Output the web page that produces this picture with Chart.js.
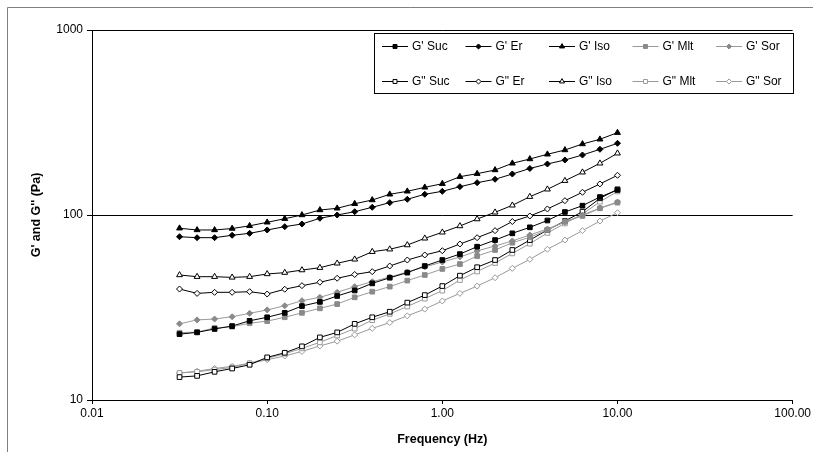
<!DOCTYPE html>
<html>
<head>
<meta charset="utf-8">
<script src="https://cdn.jsdelivr.net/npm/chart.js@4/dist/chart.umd.min.js"></script>
<style>
  html, body { margin: 0; padding: 0; background: #fff; }
  #wrap { width: 813px; height: 452px; }
</style>
</head>
<body>
<div id="wrap"><canvas id="c" width="813" height="452"></canvas></div>
<script>
// Oscillation frequency sweep (Hz)
const frequencyHz = [0.0316, 0.0398, 0.0501, 0.0631, 0.0794, 0.1, 0.126, 0.158, 0.2, 0.251,
  0.316, 0.398, 0.501, 0.631, 0.794, 1.0, 1.26, 1.58, 2.0, 2.51,
  3.16, 3.98, 5.01, 6.31, 7.94, 10.0];

// Storage modulus G' (Pa)
const storageSuc = [22.7, 23.2, 24.2, 25.1, 26.8, 28.0, 29.6, 32.2, 33.9, 36.5, 39.1, 42.7, 45.8, 48.8, 53.0, 57.1, 61.5, 67.4, 73.2, 79.6, 85.8, 93.4, 103.8, 112.3, 125.1, 136.5];
const storageEr  = [76.3, 75.4, 75.4, 77.7, 79.6, 83.0, 86.5, 89.4, 96.0, 100, 104.2, 110.1, 116.6, 121.6, 129.4, 134.3, 142.2, 149.5, 156.0, 166.6, 178.4, 188.7, 198.3, 211, 226.5, 244.1];
const storageIso = [84.8, 83.0, 83.0, 84.5, 87.4, 91.3, 95.5, 100, 106.4, 108.7, 115.0, 120.5, 129.4, 134.3, 141.1, 147.6, 161.1, 167.2, 175.1, 190.3, 200.8, 212.9, 224.6, 242, 256.6, 278.6];
const storageMlt = [23.1, 23.3, 24.5, 24.9, 26.0, 26.7, 28.0, 29.6, 31.3, 33.0, 35.9, 38.5, 41.0, 44.2, 47.4, 51.1, 54.3, 60.0, 64.7, 70.8, 75.8, 83.0, 92.0, 98.8, 108.7, 116.6];
const storageSor = [25.8, 27.1, 27.4, 28.2, 29.4, 30.7, 32.3, 34.4, 35.9, 38.2, 41.0, 43.6, 46.2, 49.2, 52.4, 55.7, 59.3, 63.9, 68.0, 72.4, 78.0, 84.0, 91.7, 100, 109.1, 117.6];

// Loss modulus G'' (Pa)
const lossSuc = [13.3, 13.5, 14.2, 14.8, 15.5, 17.0, 18.0, 19.5, 21.8, 23.2, 25.8, 28.0, 30.0, 33.6, 36.9, 41.3, 47.0, 52.2, 57.1, 64.7, 73.2, 83.0, 92.8, 104.2, 123.1, 137.7];
const lossEr  = [39.8, 37.7, 38.2, 38.2, 38.5, 37.4, 39.7, 41.5, 43.3, 45.5, 47.7, 49.4, 53.0, 57.1, 60.8, 64.1, 69.7, 75.4, 82.3, 92.2, 98.8, 107.8, 119.5, 132.7, 147.2, 163.9];
const lossIso = [47.4, 46.4, 46.4, 46.0, 46.4, 48.0, 48.8, 50.4, 51.9, 54.8, 57.6, 63.3, 65.3, 68.8, 74.8, 80.6, 87.2, 95.1, 103.4, 112.8, 125.6, 137.7, 153.2, 170.2, 190.3, 215.6];
const lossMlt = [14.0, 14.2, 14.6, 15.0, 15.8, 16.8, 17.8, 19.0, 20.5, 22.3, 24.3, 27.0, 29.2, 32.0, 35.3, 39.0, 44.5, 49.5, 55.0, 62.0, 70.0, 80.0, 90.0, 101, 118, 134];
const lossSor = [14.0, 14.3, 14.8, 15.2, 15.8, 16.5, 17.3, 18.3, 19.6, 20.8, 22.5, 24.4, 26.2, 28.5, 31.0, 34.3, 37.7, 41.3, 45.8, 51.5, 57.6, 65.3, 73.2, 82.3, 92.8, 102.9];

// Axis tick values
const xTicks = [0.01, 0.1, 1, 10, 100];
const yTicks = [10, 100, 1000];

const FONT = '"Liberation Sans", Arial, sans-serif';
const BLACK = '#000000';
const GREY_LINE = '#9a9a9a';
const GREY_MARK = '#8a8a8a';

function series(label, values, line, style, fill, border, radius) {
  return {
    label,
    data: frequencyHz.map((f, i) => ({ x: f, y: values[i] })),
    borderColor: line,
    borderWidth: 1,
    tension: 0,
    pointStyle: style,
    pointRadius: radius,
    pointBackgroundColor: fill,
    pointBorderColor: border,
    pointBorderWidth: 1,
    fill: false
  };
}

const datasets = [
  series("G' Suc", storageSuc, BLACK, 'rect', BLACK, BLACK, 3.3),
  series("G' Er", storageEr, BLACK, 'rectRot', BLACK, BLACK, 3),
  series("G' Iso", storageIso, BLACK, 'triangle', BLACK, BLACK, 3.4),
  series("G' Mlt", storageMlt, GREY_LINE, 'rect', GREY_MARK, GREY_MARK, 3.3),
  series("G' Sor", storageSor, GREY_LINE, 'rectRot', GREY_MARK, GREY_MARK, 3),
  series('G" Suc', lossSuc, BLACK, 'rect', '#ffffff', BLACK, 3.3),
  series('G" Er', lossEr, BLACK, 'rectRot', '#ffffff', BLACK, 3),
  series('G" Iso', lossIso, BLACK, 'triangle', '#ffffff', BLACK, 3.4),
  series('G" Mlt', lossMlt, GREY_LINE, 'rect', '#ffffff', GREY_LINE, 3.3),
  series('G" Sor', lossSor, GREY_LINE, 'rectRot', '#ffffff', GREY_LINE, 3)
];

// Outer frame of the chart object
const framePlugin = {
  id: 'frame',
  beforeDraw(chart) {
    const ctx = chart.ctx;
    ctx.save();
    ctx.fillStyle = '#ffffff';
    ctx.fillRect(0, 0, chart.width, chart.height);
    ctx.strokeStyle = '#808080';
    ctx.lineWidth = 1;
    ctx.beginPath();
    ctx.moveTo(7.5, chart.height);
    ctx.lineTo(7.5, 7.5);
    ctx.lineTo(chart.width, 7.5);
    ctx.stroke();
    ctx.restore();
  }
};

// Boxed two-row legend inside the plot
const legendPlugin = {
  id: 'boxLegend',
  afterDraw(chart) {
    const ctx = chart.ctx;
    const box = { x: 374.5, y: 33.5, w: 419, h: 60 };
    ctx.save();
    ctx.fillStyle = '#ffffff';
    ctx.fillRect(box.x, box.y, box.w, box.h);
    ctx.strokeStyle = '#000000';
    ctx.lineWidth = 1;
    ctx.strokeRect(box.x, box.y, box.w, box.h);
    const colX = [382, 465.5, 549, 632.5, 716];
    const rowY = [46, 81];
    ctx.font = '12px ' + FONT;
    ctx.textBaseline = 'middle';
    ctx.textAlign = 'left';
    chart.data.datasets.forEach((ds, i) => {
      const x0 = colX[i % 5];
      const y = rowY[Math.floor(i / 5)] + 0.5;
      ctx.strokeStyle = ds.borderColor;
      ctx.lineWidth = 1;
      ctx.beginPath();
      ctx.moveTo(x0, y);
      ctx.lineTo(x0 + 26, y);
      ctx.stroke();
      ctx.fillStyle = ds.pointBackgroundColor;
      ctx.strokeStyle = ds.pointBorderColor;
      Chart.helpers.drawPoint(ctx, {
        pointStyle: ds.pointStyle,
        radius: ds.pointRadius * 0.85,
        rotation: 0,
        borderWidth: 1
      }, x0 + 13, y);
      ctx.fillStyle = '#000000';
      ctx.fillText(ds.label, x0 + 30, y);
    });
    ctx.restore();
  }
};

new Chart(document.getElementById('c'), {
  type: 'line',
  data: { datasets },
  plugins: [framePlugin, legendPlugin],
  options: {
    responsive: false,
    animation: false,
    devicePixelRatio: 1,
    layout: { padding: { top: 30, right: 20, left: 0, bottom: 0 } },
    plugins: {
      legend: { display: false },
      tooltip: { enabled: false }
    },
    events: [],
    scales: {
      x: {
        type: 'logarithmic',
        min: 0.01,
        max: 100,
        afterBuildTicks(scale) { scale.ticks = xTicks.map(v => ({ value: v })); },
        afterFit(scale) { scale.height = 52; },
        ticks: {
          color: '#000',
          font: { family: FONT, size: 12 },
          padding: 2,
          maxRotation: 0,
          autoSkip: false,
          callback: (v) => Number(v).toFixed(2)
        },
        grid: {
          display: true,
          drawOnChartArea: false,
          drawTicks: true,
          tickLength: 4,
          tickColor: '#000',
          color: '#000'
        },
        border: { display: true, color: '#000', width: 1 },
        title: {
          display: true,
          text: 'Frequency (Hz)',
          color: '#000',
          font: { family: FONT, size: 12.5, weight: 'bold' },
          padding: { top: 0, bottom: 5 }
        }
      },
      y: {
        type: 'logarithmic',
        min: 10,
        max: 1000,
        afterBuildTicks(scale) { scale.ticks = yTicks.map(v => ({ value: v })); },
        afterFit(scale) { scale.width = 92; },
        ticks: {
          color: '#000',
          font: { family: FONT, size: 12 },
          padding: 4,
          callback: (v) => String(v)
        },
        grid: {
          display: true,
          drawOnChartArea: true,
          drawTicks: true,
          tickLength: 5,
          tickColor: '#000',
          color: '#000',
          lineWidth: 1
        },
        border: { display: true, color: '#000', width: 1 },
        title: {
          display: true,
          text: "G' and G'' (Pa)",
          color: '#000',
          font: { family: FONT, size: 12.5, weight: 'bold' },
          padding: { top: 29, bottom: 0 }
        }
      }
    }
  }
});
</script>
</body>
</html>
